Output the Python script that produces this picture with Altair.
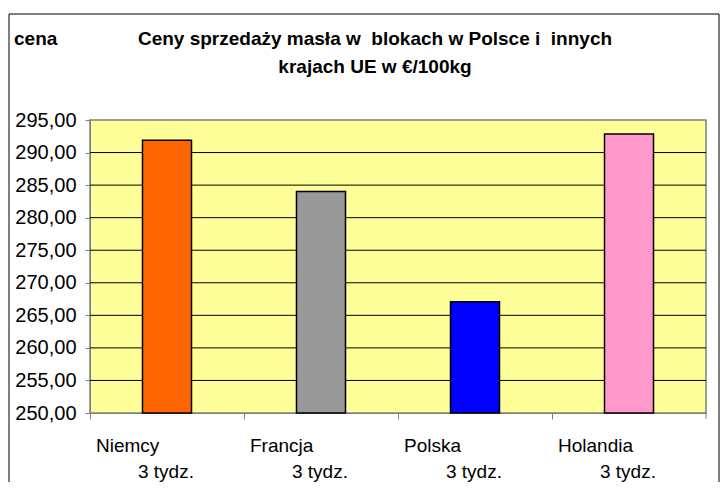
import altair as alt
import pandas as pd

# ---- data ----
countries = ["Niemcy", "Francja", "Polska", "Holandia"]
prices = [291.9, 284.0, 267.1, 292.85]
periods = ["3 tydz.", "3 tydz.", "3 tydz.", "3 tydz."]
bar_colors = ["#FF6600", "#999999", "#0000FF", "#FF99CC"]
y_ticks = [250, 255, 260, 265, 270, 275, 280, 285, 290, 295]
grid_values = [255, 260, 265, 270, 275, 280, 285, 290]
title_lines = ["Ceny sprzedaży masła w\u00a0 blokach w Polsce i\u00a0 innych",
               "krajach UE w €/100kg"]
y_title = "cena"
y_min, y_max = 250, 295

df = pd.DataFrame({"kraj": countries, "cena": prices, "okres": periods})
grid_df = pd.DataFrame({"v": grid_values})
one = pd.DataFrame({"a": [0]})

W, H = 616, 293
FONT = "Liberation Sans"
FS = 19

x_scale = alt.Scale(domain=countries, paddingInner=0, paddingOuter=0)
y_scale = alt.Scale(domain=[y_min, y_max], nice=False, zero=False)


def y_axis():
    return alt.Axis(values=y_ticks,
                    labelExpr="replace(format(datum.value, '.2f'), '.', ',')",
                    grid=False, tickSize=5, tickColor="#808080",
                    domainColor="#808080", labelFontSize=20, labelColor="black",
                    labelPadding=9, labelFont=FONT, labelOverlap=False, title=None)


grid = alt.Chart(grid_df).mark_rule(color="black", strokeWidth=1).encode(
    y=alt.Y("v:Q", scale=y_scale, axis=y_axis())
)

bars = alt.Chart(df).mark_bar(size=49, stroke="black", strokeWidth=1.5).encode(
    x=alt.X("kraj:N", scale=x_scale, sort=countries,
            axis=alt.Axis(labels=False, title=None, bandPosition=0, tickSize=6,
                          tickColor="#808080", domainColor="#808080", grid=False)),
    y=alt.Y("cena:Q", scale=y_scale, axis=y_axis()),
    y2=alt.datum(y_min),
    color=alt.Color("kraj:N", scale=alt.Scale(domain=countries, range=bar_colors),
                    legend=None),
)

names = alt.Chart(df).mark_text(align="left", baseline="alphabetic", dx=-71,
                                fontSize=FS, font=FONT, color="black").encode(
    x=alt.X("kraj:N", scale=x_scale, sort=countries),
    y=alt.value(331.7),
    text="kraj:N",
)

period_text = alt.Chart(df).mark_text(align="left", baseline="alphabetic", dx=-29,
                                      fontSize=FS, font=FONT, color="black").encode(
    x=alt.X("kraj:N", scale=x_scale, sort=countries),
    y=alt.value(358),
    text="okres:N",
)

title_text = alt.Chart(one).mark_text(align="center", baseline="alphabetic",
                                      fontSize=FS, font=FONT, fontWeight="bold",
                                      lineHeight=28, color="black").encode(
    x=alt.value(285), y=alt.value(-75), text=alt.value(title_lines)
)

ytitle_text = alt.Chart(one).mark_text(align="left", baseline="alphabetic",
                                       fontSize=FS, font=FONT, fontWeight="bold",
                                       color="black").encode(
    x=alt.value(-76), y=alt.value(-75), text=alt.value(y_title)
)

end_tick = alt.Chart(one).mark_rule(color="#808080").encode(
    x=alt.value(W), y=alt.value(H), y2=alt.value(H + 6)
)

frame = alt.Chart(one).mark_rect(
    fillOpacity=0, stroke="black", strokeWidth=1
).encode(
    x=alt.value(-81), x2=alt.value(629), y=alt.value(-106), y2=alt.value(378)
)

chart = alt.layer(grid, bars, names, period_text, title_text, ytitle_text,
                  end_tick, frame).properties(
    width=W,
    height=H,
    autosize=alt.AutoSizeParams(type="none"),
    padding={"left": 82, "top": 112, "right": 14, "bottom": 69},
).configure(
    font=FONT,
    view=alt.ViewConfig(fill="#FFFF99", stroke="#808080", strokeWidth=1.5),
)

chart.save("out.html", embed_options={"renderer": "svg", "actions": False})
